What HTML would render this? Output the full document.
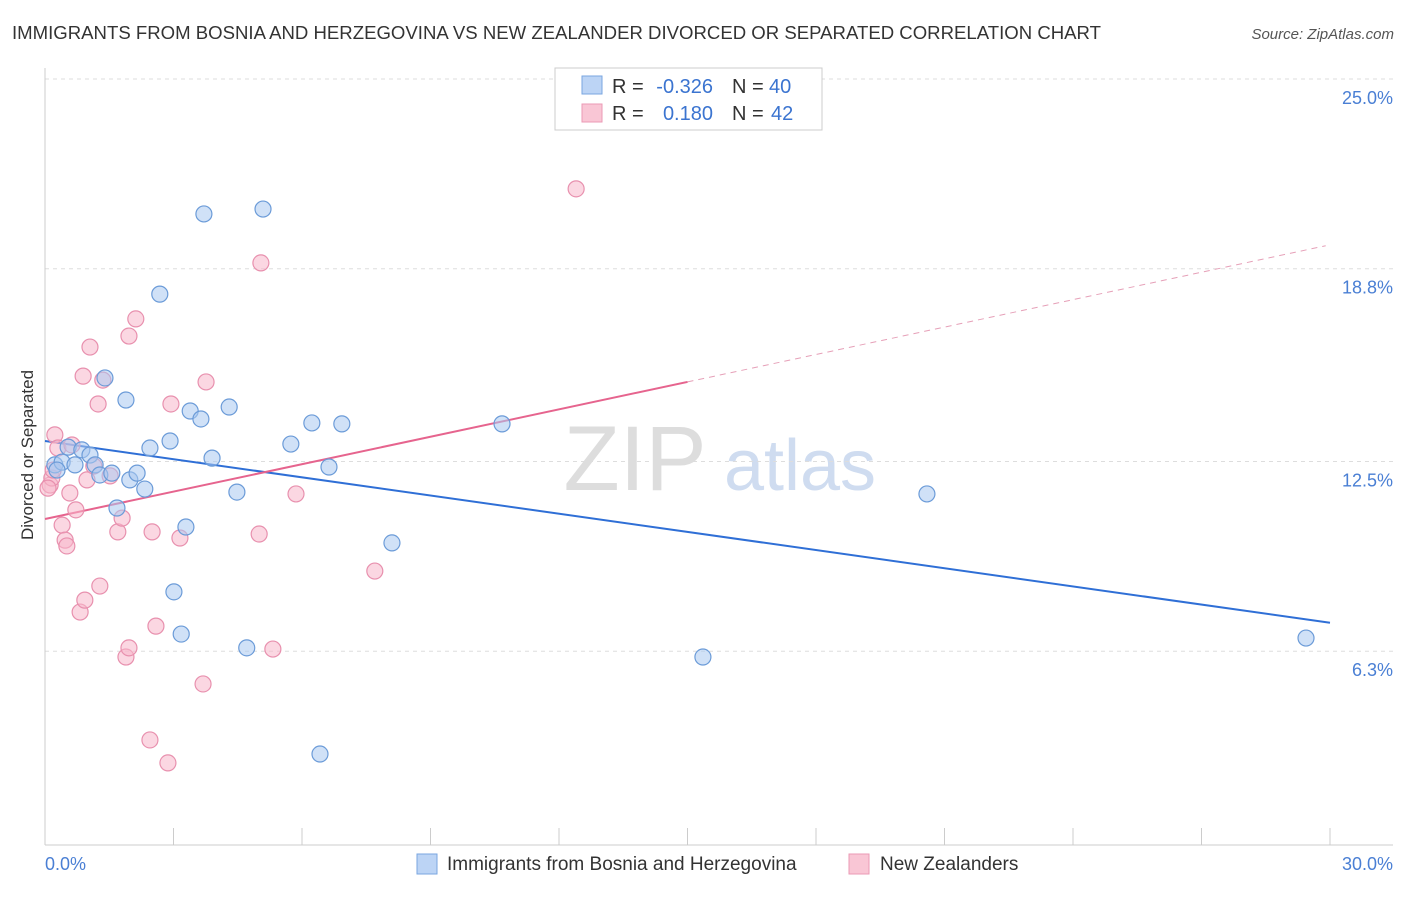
<!DOCTYPE html>
<html><head><meta charset="utf-8"><style>
body{margin:0;background:#fff;font-family:"Liberation Sans",sans-serif}
svg text{font-family:"Liberation Sans",sans-serif}
</style></head><body>
<svg id="chart" width="1406" height="892" xmlns="http://www.w3.org/2000/svg">
<text x="12" y="39" font-size="18" fill="#333" textLength="1089" lengthAdjust="spacingAndGlyphs">IMMIGRANTS FROM BOSNIA AND HERZEGOVINA VS NEW ZEALANDER DIVORCED OR SEPARATED CORRELATION CHART</text>
<text x="1394" y="39" font-size="15" fill="#555" text-anchor="end" font-style="italic">Source: ZipAtlas.com</text>
<g>
<text x="635" y="490" font-size="92" fill="#ddd" text-anchor="middle" font-family="Liberation Serif">ZIP</text>
<text x="800" y="490" font-size="72" fill="#cfdcf0" text-anchor="middle">atlas</text>
</g>
<g id="grid"></g><g id="axes"></g><g id="lines"></g><g id="pts"></g>
<text transform="translate(33,455) rotate(-90)" font-size="17" fill="#333" text-anchor="middle">Divorced or Separated</text>
<text x="45" y="870" font-size="18" fill="#4a7fd4">0.0%</text>
<text x="1393" y="870" font-size="18" fill="#4a7fd4" text-anchor="end">30.0%</text>
<g font-size="20">
<rect x="555" y="68" width="267" height="62" fill="#fff" stroke="#ccc"/>
<rect x="582" y="76" width="20" height="18" fill="#bcd4f5" stroke="#7aa6e0"/>
<rect x="582" y="104" width="20" height="18" fill="#f9c6d5" stroke="#eb9ab5"/>
<text x="612" y="93" fill="#333">R =</text>
<text x="713" y="93" fill="#3b74d0" text-anchor="end">-0.326</text>
<text x="732" y="93" fill="#333">N =</text>
<text x="769" y="93" fill="#3b74d0">40</text>
<text x="612" y="120" fill="#333">R =</text>
<text x="713" y="120" fill="#3b74d0" text-anchor="end">0.180</text>
<text x="732" y="120" fill="#333">N =</text>
<text x="771" y="120" fill="#3b74d0">42</text>
</g>
<g>
<rect x="417" y="854" width="20" height="20" fill="#bcd4f5" stroke="#7aa6e0"/>
<text x="447" y="870" font-size="19" fill="#333">Immigrants from Bosnia and Herzegovina</text>
<rect x="849" y="854" width="20" height="20" fill="#f9c6d5" stroke="#eb9ab5"/>
<text x="880" y="870" font-size="19" fill="#333">New Zealanders</text>
</g>
</svg>
<script>
const yTicks=[25.0,18.8,12.5,6.3];
const yTickLabels=["25.0%","18.8%","12.5%","6.3%"];
const blueX=[0.23,0.40,0.70,0.54,0.86,1.05,1.17,1.28,1.40,1.56,1.68,1.89,1.98,2.15,2.33,2.45,2.68,2.92,3.01,3.18,3.29,3.39,3.64,3.71,3.90,4.30,4.48,4.71,5.09,5.74,6.23,6.42,6.63,6.93,8.10,10.67,15.36,20.59,29.44,0.28];
const blueY=[12.39,12.48,12.39,12.97,12.88,12.71,12.39,12.06,15.23,12.12,10.98,14.51,11.90,12.12,11.60,12.94,17.97,13.17,8.24,6.86,10.36,14.15,13.89,20.59,12.61,14.28,11.50,6.41,20.75,13.07,13.76,2.94,12.32,13.73,9.84,13.73,6.11,11.44,6.73,12.22];
const pinkX=[0.12,0.16,0.23,0.30,0.40,0.47,0.51,0.58,0.63,0.72,0.82,0.89,0.93,0.98,1.05,1.14,1.24,1.28,1.35,1.70,1.80,1.89,1.96,1.96,2.12,2.45,2.50,2.59,2.87,2.94,3.15,3.69,3.76,5.00,5.04,5.32,5.86,7.70,12.40,0.07,0.19,1.52];
const pinkY=[11.73,11.96,13.37,12.94,10.42,9.93,9.74,11.47,13.04,10.92,7.58,15.29,7.97,11.90,16.24,12.35,14.38,8.43,15.16,10.20,10.65,6.11,6.41,16.60,17.16,3.40,10.20,7.12,2.65,14.38,10.00,5.23,15.10,10.13,18.99,6.37,11.44,8.92,21.41,11.63,12.22,12.03];
const blueTrend=[13.17,-0.198];
const pinkTrend=[10.62,0.2987];
const NS="http://www.w3.org/2000/svg";
const X=v=>45+v/30*1285, Y=v=>79+(25-v)*30.6;
function mk(p,t,a){const e=document.createElementNS(NS,t);for(const k in a)e.setAttribute(k,a[k]);p.appendChild(e);return e;}
const grid=document.getElementById('grid'),axes=document.getElementById('axes'),lines=document.getElementById('lines'),pts=document.getElementById('pts');
yTicks.forEach((t,i)=>{
 const l=mk(grid,'line',{x1:45,x2:1393,y1:Y(t),y2:Y(t),stroke:'#ddd','stroke-dasharray':'4,4'});
 
 
 const tx=mk(grid,'text',{x:1393,y:Y(t)+25,'font-size':18,fill:'#4a7fd4','text-anchor':'end'});
 tx.textContent=yTickLabels[i];
 
 
});
const ax=mk(axes,'line',{x1:45,x2:45,y1:68,y2:845,stroke:'#ccc'});


const bx=mk(axes,'line',{x1:45,x2:1393,y1:845,y2:845,stroke:'#ccc'});


for(let i=0;i<=10;i++){const t=mk(axes,'line',{x1:X(i*3),x2:X(i*3),y1:828,y2:845,stroke:'#ccc'});
 
 }
function pt(xs,ys,fill,stroke,name){xs.forEach((x,i)=>{const c=mk(pts,'circle',{cx:X(x),cy:Y(ys[i]),r:8,fill:fill,'fill-opacity':0.55,stroke:stroke,'stroke-width':1.2});
 
 });}
pt(pinkX,pinkY,'#f7b7ca','#e890ae','pink-point');
pt(blueX,blueY,'#a9c8f0','#6b9bd8','blue-point');
const bl=mk(lines,'line',{x1:X(0),y1:Y(blueTrend[0]),x2:X(30),y2:Y(blueTrend[0]+blueTrend[1]*30),stroke:'#2f6fd6','stroke-width':2});


const pl=mk(lines,'line',{x1:X(0),y1:Y(pinkTrend[0]),x2:X(15),y2:Y(pinkTrend[0]+pinkTrend[1]*15),stroke:'#e6648e','stroke-width':2});


const pd=mk(lines,'line',{x1:X(15),y1:Y(pinkTrend[0]+pinkTrend[1]*15),x2:X(29.9),y2:Y(pinkTrend[0]+pinkTrend[1]*29.9),stroke:'#e6a0b8','stroke-width':1,'stroke-dasharray':'6,5'});


</script>
</body></html>
